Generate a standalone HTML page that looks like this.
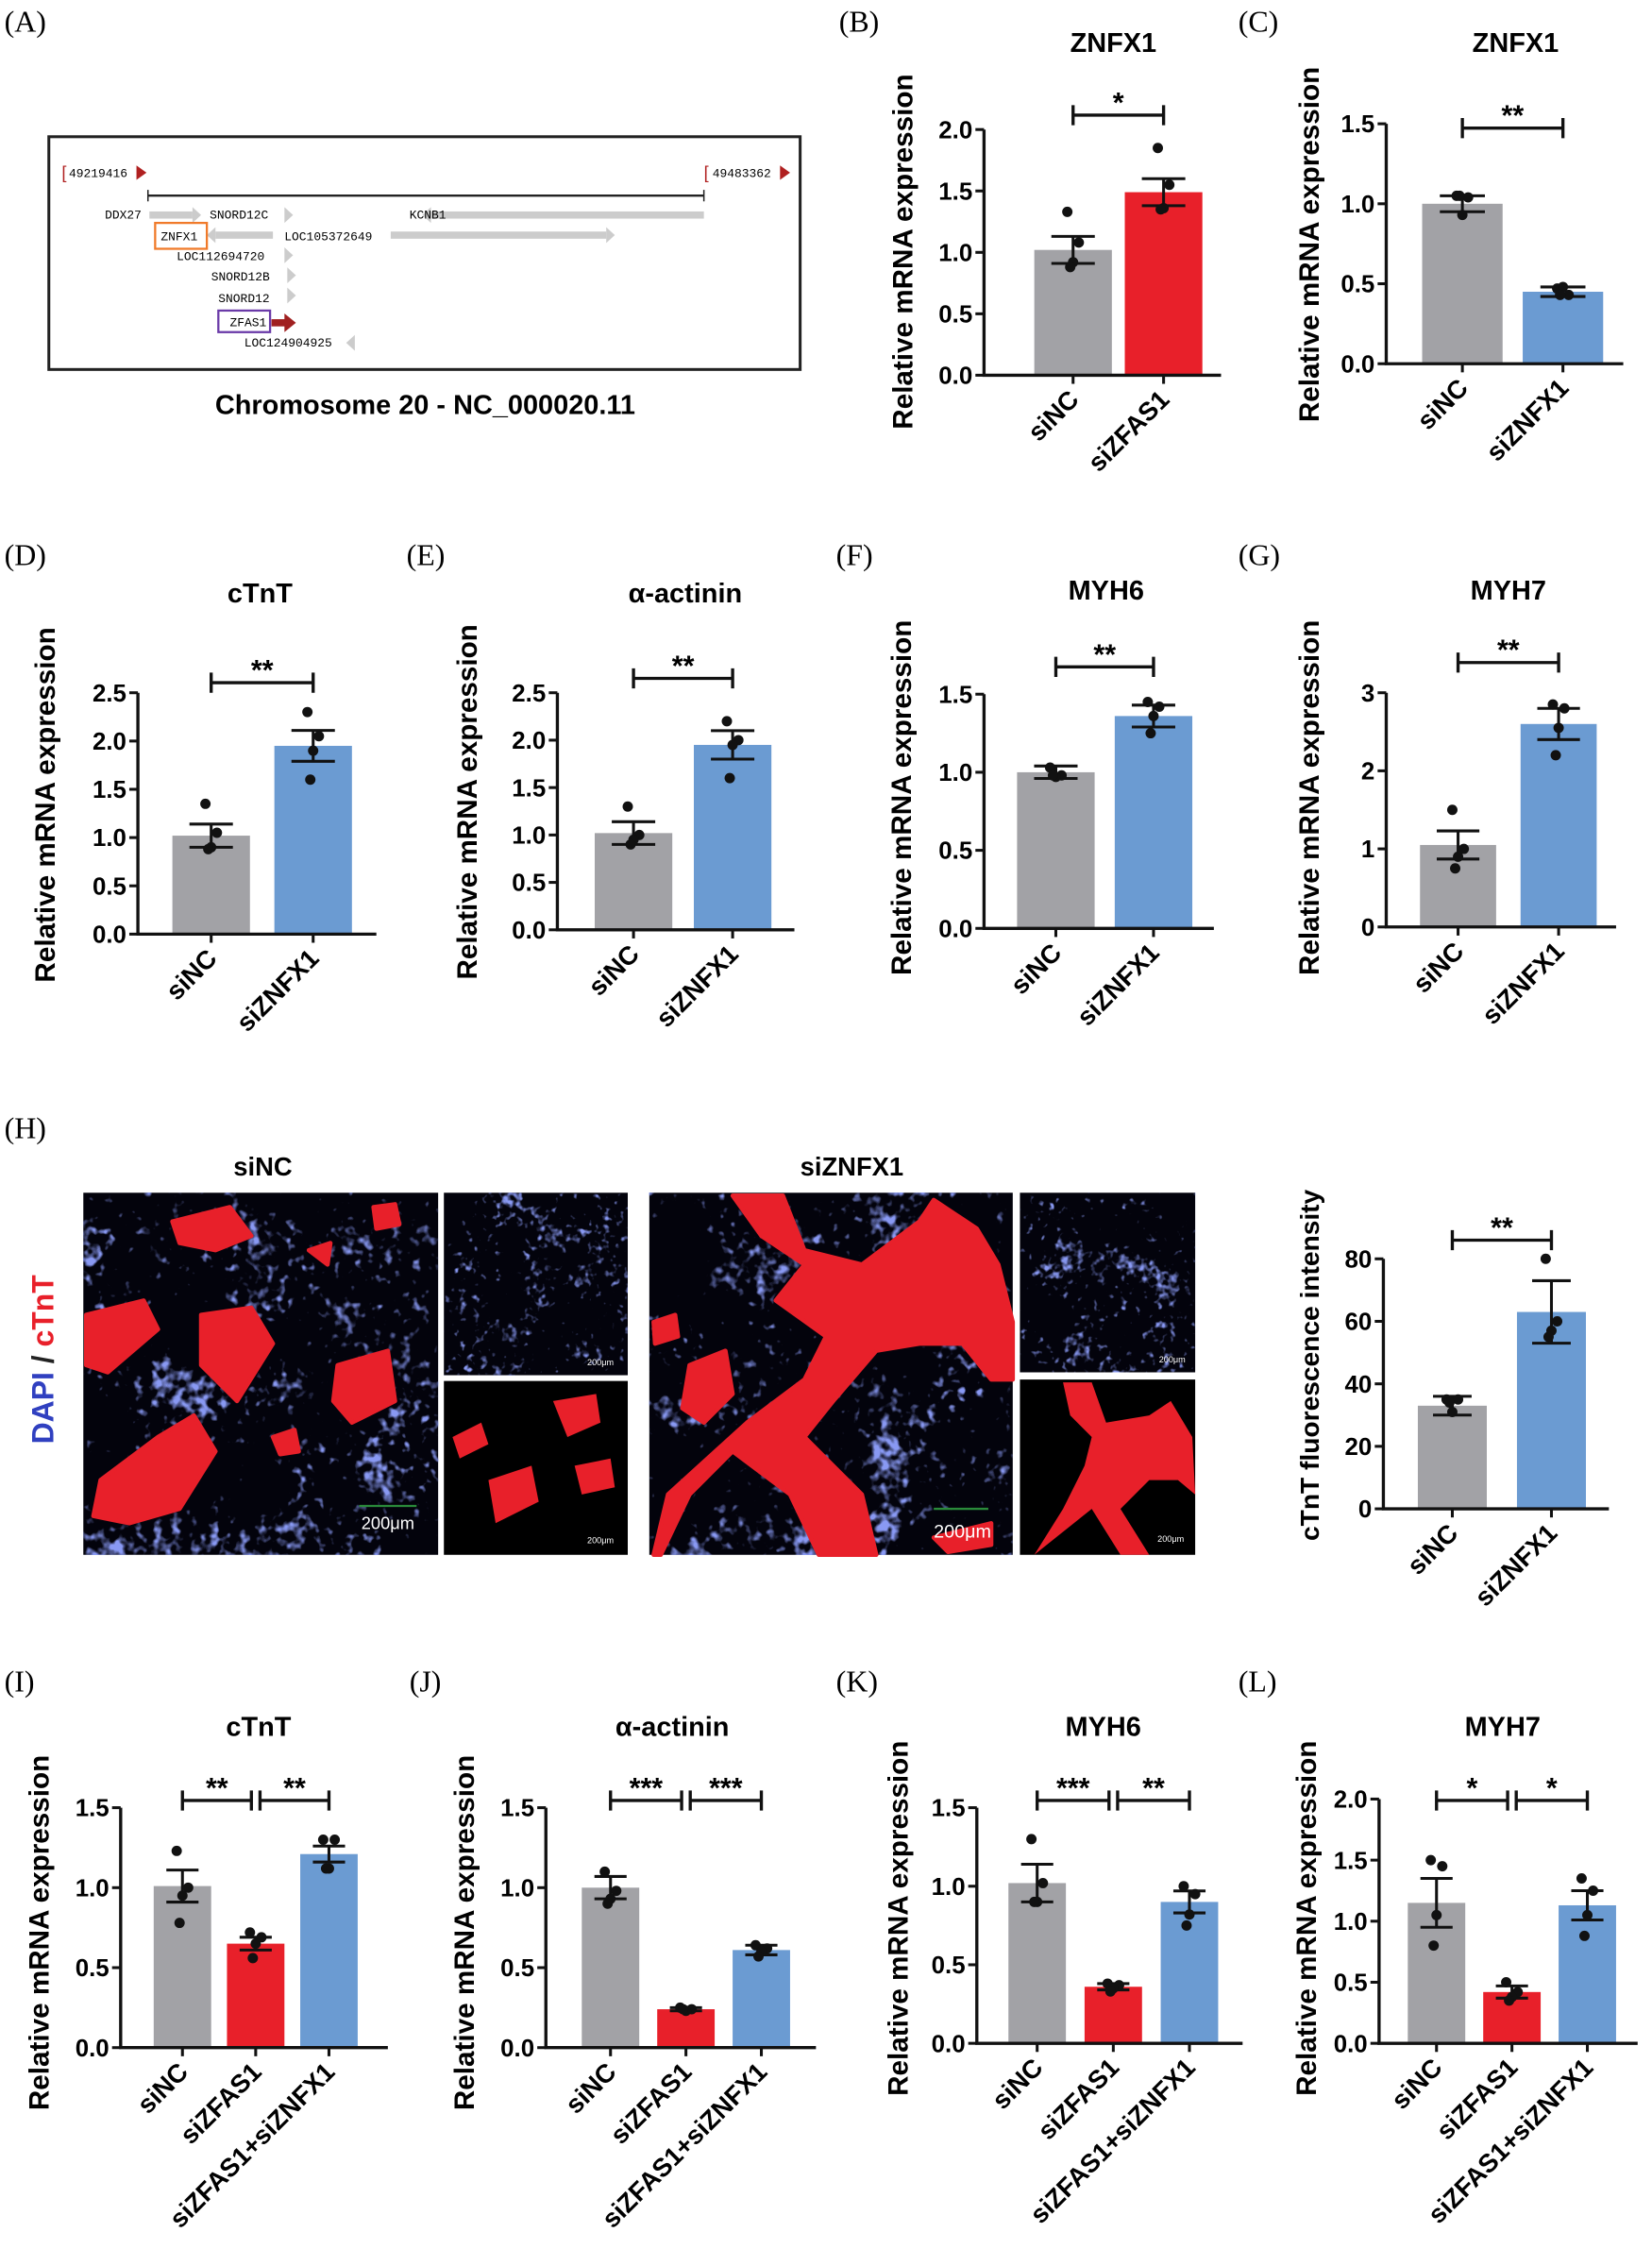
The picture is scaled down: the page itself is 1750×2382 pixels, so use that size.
<!DOCTYPE html>
<html><head><meta charset="utf-8"><style>
html,body{margin:0;padding:0;background:#fff}
svg{display:block}
text{font-family:"Liberation Sans",sans-serif}
.lbl{font-family:"Liberation Serif",serif;font-size:21px}
.mono{font-family:"Liberation Mono",monospace;font-size:8.5px}
</style></head><body>
<svg id="fig" width="1750" height="2382" viewBox="0 0 1150 1565" xmlns="http://www.w3.org/2000/svg">
<defs>
<filter id="blueNoise" x="0" y="0" width="100%" height="100%">
<feTurbulence type="fractalNoise" baseFrequency="0.15" numOctaves="2" seed="4" result="fine"/>
<feTurbulence type="fractalNoise" baseFrequency="0.02" numOctaves="2" seed="7" result="coarse"/>
<feComposite in="fine" in2="coarse" operator="arithmetic" k1="0" k2="0.6" k3="0.6" k4="-0.1" result="mix"/>
<feColorMatrix in="mix" values="0 0 0 0 0.25  0 0 0 0 0.32  0 0 0 0 0.9  6 0 0 0 -2.9"/>
</filter>
<filter id="blueNoise2" x="0" y="0" width="100%" height="100%">
<feTurbulence type="fractalNoise" baseFrequency="0.2" numOctaves="2" seed="9" result="fine"/>
<feTurbulence type="fractalNoise" baseFrequency="0.03" numOctaves="2" seed="3" result="coarse"/>
<feComposite in="fine" in2="coarse" operator="arithmetic" k1="0" k2="0.6" k3="0.6" k4="-0.1" result="mix"/>
<feColorMatrix in="mix" values="0 0 0 0 0.25  0 0 0 0 0.32  0 0 0 0 0.9  6 0 0 0 -2.9"/>
</filter>
</defs>
<g id="labels">
<text class="lbl" x="3" y="22">(A)</text><text class="lbl" x="584" y="22">(B)</text><text class="lbl" x="862" y="22">(C)</text>
<text class="lbl" x="3" y="393">(D)</text><text class="lbl" x="283" y="393">(E)</text><text class="lbl" x="582" y="393">(F)</text><text class="lbl" x="862" y="393">(G)</text>
<text class="lbl" x="3" y="792">(H)</text>
<text class="lbl" x="3" y="1177">(I)</text><text class="lbl" x="285" y="1177">(J)</text><text class="lbl" x="582" y="1177">(K)</text><text class="lbl" x="862" y="1177">(L)</text>
</g>
<g id="panelA">
<rect x="34" y="95" width="523" height="162" fill="#fff" stroke="#222" stroke-width="2"/>
<text x="43" y="124" fill="#b02020" font-size="12">[</text><text class="mono" x="48" y="123">49219416</text><polygon points="95,115 102,120 95,125" fill="#b02020"/>
<text x="490" y="124" fill="#b02020" font-size="12">[</text><text class="mono" x="496" y="123">49483362</text><polygon points="543,115 550,120 543,125" fill="#b02020"/>
<line x1="103" y1="136" x2="490" y2="136" stroke="#222" stroke-width="1.5"/>
<line x1="103" y1="132" x2="103" y2="140" stroke="#222"/><line x1="490" y1="132" x2="490" y2="140" stroke="#222"/>
<g fill="#ccc">
<rect x="104" y="147" width="30" height="5"/><polygon points="134,144 140,149.5 134,155"/>
<polygon points="198,144 204,149.5 198,155"/>
<rect x="300" y="147" width="190" height="5"/><polygon points="300,144 294,149.5 300,155"/>
<rect x="150" y="161" width="40" height="5"/><polygon points="150,158 144,163.5 150,169"/>
<rect x="272" y="161" width="150" height="5"/><polygon points="422,158 428,163.5 422,169"/>
<polygon points="198,172 204,177.5 198,183"/><polygon points="200,186 206,191.5 200,197"/><polygon points="200,200 206,205.5 200,211"/>
<polygon points="247,233 241,238.5 247,244"/>
</g>
<text class="mono" x="73" y="152">DDX27</text><text class="mono" x="146" y="152">SNORD12C</text><text class="mono" x="285" y="152">KCNB1</text>
<rect x="108" y="155" width="36" height="18" fill="none" stroke="#f07a2a" stroke-width="1.5"/><text class="mono" x="112" y="167">ZNFX1</text>
<text class="mono" x="198" y="167">LOC105372649</text><text class="mono" x="123" y="181">LOC112694720</text>
<text class="mono" x="147" y="195">SNORD12B</text><text class="mono" x="152" y="210">SNORD12</text>
<rect x="152" y="216" width="36" height="15" fill="none" stroke="#6a3aa8" stroke-width="1.5"/><text class="mono" x="160" y="227">ZFAS1</text>
<rect x="189" y="222" width="10" height="5" fill="#a02020"/><polygon points="198,218 206,224.5 198,231" fill="#a02020"/>
<text class="mono" x="170" y="241">LOC124904925</text>
<text x="296" y="288" text-anchor="middle" font-size="19" font-weight="bold">Chromosome 20 - NC_000020.11</text>
</g>
<g id="panelH">
<text x="183" y="818" text-anchor="middle" font-size="18" font-weight="bold">siNC</text>
<text x="593" y="818" text-anchor="middle" font-size="18" font-weight="bold">siZNFX1</text>
<text transform="translate(37,946) rotate(-90)" text-anchor="middle" font-size="21" font-weight="bold"><tspan fill="#3040c0">DAPI</tspan><tspan fill="#222"> / </tspan><tspan fill="#e8202a">cTnT</tspan></text>
<g>
<rect x="58" y="830" width="247" height="252" fill="#03030c"/>
<rect x="58" y="830" width="247" height="252" filter="url(#blueNoise)"/>
<g fill="#e8202a" stroke="#e8202a" stroke-width="3" stroke-linejoin="round"><polygon points="60,915 100,905 110,925 75,955 60,950"/><polygon points="120,850 160,840 175,860 150,870 125,865"/><polygon points="140,915 175,910 190,935 165,975 140,950"/><polygon points="235,950 270,940 275,975 245,990 232,975"/><polygon points="70,1030 110,1000 135,985 150,1010 125,1050 90,1060 65,1055"/><polygon points="260,840 275,838 278,852 262,855"/><polygon points="215,870 230,865 228,880"/><polygon points="190,1000 205,995 208,1010 195,1012"/></g>
<text x="270" y="1064" text-anchor="middle" fill="#fff" font-size="12">200μm</text><line x1="250" y1="1048" x2="290" y2="1048" stroke="#2a8a3a" stroke-width="1.5"/>
</g>
<g>
<rect x="309" y="830" width="128" height="127" fill="#03030c"/><rect x="309" y="830" width="128" height="127" filter="url(#blueNoise2)"/>
<text x="418" y="950" text-anchor="middle" fill="#fff" font-size="6">200μm</text>
</g>
<g>
<rect x="309" y="961" width="128" height="121" fill="#000"/>
<g fill="#e8202a"><polygon points="315,1000 335,990 340,1005 320,1015"/><polygon points="340,1030 370,1020 375,1045 345,1060"/><polygon points="385,975 415,970 418,990 395,1000"/><polygon points="400,1020 425,1015 428,1035 405,1040"/></g>
<text x="418" y="1074" text-anchor="middle" fill="#fff" font-size="6">200μm</text>
</g>
<g>
<rect x="452" y="830" width="253" height="252" fill="#03030c"/><rect x="452" y="830" width="253" height="252" filter="url(#blueNoise)"/>
<g fill="#e8202a" stroke="#e8202a" stroke-width="3" stroke-linejoin="round"><polygon points="510,832 545,832 560,870 600,880 640,850 650,835 680,855 695,880 705,920 705,960 690,960 670,935 640,935 610,940 580,975 560,1000 600,1040 610,1082 570,1082 550,1040 510,1010 480,1040 460,1082 455,1082 465,1040 520,990 560,960 575,930 540,905 560,880 530,860"/><polygon points="455,920 470,915 472,930 456,935"/><polygon points="480,950 505,940 510,970 490,990 475,980"/><polygon points="650,1070 690,1060 690,1075 660,1080"/></g>
<text x="670" y="1070" text-anchor="middle" fill="#fff" font-size="13">200μm</text><line x1="650" y1="1050" x2="688" y2="1050" stroke="#2a8a3a" stroke-width="1.5"/>
</g>
<g>
<rect x="710" y="830" width="122" height="125" fill="#03030c"/><rect x="710" y="830" width="122" height="125" filter="url(#blueNoise2)"/>
<text x="816" y="948" text-anchor="middle" fill="#fff" font-size="6">200μm</text>
</g>
<g>
<rect x="710" y="960" width="122" height="122" fill="#000"/>
<g fill="#e8202a"><polygon points="740,962 760,962 770,990 800,985 815,975 830,1000 832,1040 820,1030 800,1030 780,1050 800,1082 780,1082 760,1050 735,1070 720,1082 740,1050 755,1020 760,1000 745,985"/></g>
<text x="815" y="1073" text-anchor="middle" fill="#fff" font-size="6">200μm</text>
</g>
</g>
<g id="charts"></g>
</svg>
<script>
// ---- data arrays ----
const B_cats=["siNC","siZFAS1"]; const B_means=[1.02,1.49]; const B_errs=[0.11,0.11]; const B_pts=[[1.33,1.08,0.92,0.88],[1.85,1.55,1.36,1.35]]; const B_ticks=[0,0.5,1.0,1.5,2.0]; const B_sig=["*"];
const C_cats=["siNC","siZNFX1"]; const C_means=[1.0,0.45]; const C_errs=[0.05,0.03]; const C_pts=[[1.05,1.04,0.93,1.05],[0.47,0.43,0.48,0.43]]; const C_ticks=[0,0.5,1.0,1.5]; const C_sig=["**"];
const D_cats=["siNC","siZNFX1"]; const D_means=[1.02,1.95]; const D_errs=[0.12,0.16]; const D_pts=[[1.35,1.05,0.9,0.88],[2.3,2.05,1.9,1.6]]; const D_ticks=[0,0.5,1.0,1.5,2.0,2.5]; const D_sig=["**"];
const E_cats=["siNC","siZNFX1"]; const E_means=[1.02,1.95]; const E_errs=[0.12,0.15]; const E_pts=[[1.3,1.0,0.95,0.9],[2.2,2.0,1.95,1.6]]; const E_ticks=[0,0.5,1.0,1.5,2.0,2.5]; const E_sig=["**"];
const F_cats=["siNC","siZNFX1"]; const F_means=[1.0,1.36]; const F_errs=[0.04,0.07]; const F_pts=[[1.03,0.98,0.97,0.98],[1.45,1.42,1.36,1.25]]; const F_ticks=[0,0.5,1.0,1.5]; const F_sig=["**"];
const G_cats=["siNC","siZNFX1"]; const G_means=[1.05,2.6]; const G_errs=[0.18,0.2]; const G_pts=[[1.5,1.0,0.9,0.75],[2.85,2.8,2.55,2.2]]; const G_ticks=[0,1,2,3]; const G_sig=["**"];
const H_cats=["siNC","siZNFX1"]; const H_means=[33,63]; const H_errs=[3,10]; const H_pts=[[35,35,31,34],[80,60,57,55]]; const H_ticks=[0,20,40,60,80]; const H_sig=["**"];
const I_cats=["siNC","siZFAS1","siZFAS1+siZNFX1"]; const I_means=[1.01,0.65,1.21]; const I_errs=[0.1,0.04,0.05]; const I_pts=[[1.23,1.0,0.95,0.78],[0.72,0.69,0.65,0.56],[1.3,1.3,1.12,1.12]]; const I_ticks=[0,0.5,1.0,1.5]; const I_sig=["**","**"];
const J_cats=["siNC","siZFAS1","siZFAS1+siZNFX1"]; const J_means=[1.0,0.24,0.61]; const J_errs=[0.07,0.01,0.03]; const J_pts=[[1.1,0.98,0.93,0.9],[0.25,0.24,0.23,0.24],[0.64,0.62,0.6,0.57]]; const J_ticks=[0,0.5,1.0,1.5]; const J_sig=["***","***"];
const K_cats=["siNC","siZFAS1","siZFAS1+siZNFX1"]; const K_means=[1.02,0.36,0.9]; const K_errs=[0.12,0.02,0.07]; const K_pts=[[1.3,1.02,0.9,0.9],[0.38,0.37,0.35,0.33],[1.0,0.95,0.82,0.75]]; const K_ticks=[0,0.5,1.0,1.5]; const K_sig=["***","**"];
const L_cats=["siNC","siZFAS1","siZFAS1+siZNFX1"]; const L_means=[1.15,0.42,1.13]; const L_errs=[0.2,0.05,0.12]; const L_pts=[[1.5,1.45,1.05,0.8],[0.5,0.42,0.38,0.35],[1.35,1.25,1.05,0.88]]; const L_ticks=[0,0.5,1.0,1.5,2.0]; const L_sig=["*","*"];

const NS="http://www.w3.org/2000/svg";
const root=document.getElementById('charts');
function mk(tag,attrs,parent){const e=document.createElementNS(NS,tag);for(const k in attrs)e.setAttribute(k,attrs[k]);parent.appendChild(e);return e;}
const COLORS={gray:"#a2a2a6",red:"#e8202a",blue:"#6b9bd2"};
function chart(id,cfg,cats,means,errs,pts,ticks,sig){
  const g=mk('g',{},root);
  
  
  const ymax=ticks[ticks.length-1];
  const y=v=>cfg.y0-(v/ymax)*(cfg.y0-cfg.ytop);
  const x=i=>cfg.c0+i*cfg.step;
  const t=mk('text',{x:cfg.tx,y:cfg.ty,'text-anchor':'middle','font-size':19,'font-weight':'bold'},g);t.textContent=cfg.title;
  
  
  const yl=mk('text',{transform:`translate(${cfg.ylx},${cfg.yly}) rotate(-90)`,'text-anchor':'middle','font-size':cfg.ylsize||19.5,'font-weight':'bold'},g);yl.textContent=cfg.ylabel||"Relative mRNA expression";
  
  
  cats.forEach((c,i)=>{
    const col=cfg.colors[i];
    const r=mk('rect',{x:x(i)-cfg.bw/2,y:y(means[i]),width:cfg.bw,height:cfg.y0-y(means[i]),fill:COLORS[col]},g);
    
    
    const ex=cfg.bw*0.28;
    const eb=mk('path',{d:`M${x(i)},${y(means[i]-errs[i])}V${y(means[i]+errs[i])}M${x(i)-ex},${y(means[i]+errs[i])}H${x(i)+ex}M${x(i)-ex},${y(means[i]-errs[i])}H${x(i)+ex}`,stroke:'#111','stroke-width':2,fill:'none'},g);
    
    
    const off=[-4,4,0,-2];
    pts[i].forEach((v,j)=>{
      const p=mk('circle',{cx:x(i)+off[j],cy:y(v),r:3.6,fill:'#111'},g);
      
      
    });
    const cl=mk('text',{transform:`translate(${x(i)+5},${cfg.y0+18}) rotate(-45)`,'text-anchor':'end','font-size':18,'font-weight':'bold'},g);cl.textContent=c;
    
    
    mk('line',{x1:x(i),x2:x(i),y1:cfg.y0,y2:cfg.y0+6,stroke:'#111','stroke-width':2},g);
  });
  const ax=mk('path',{d:`M${cfg.ax},${cfg.ytop}V${cfg.y0}H${cfg.xend}`,stroke:'#111','stroke-width':2.2,fill:'none'},g);
  
  
  ticks.forEach(tv=>{
    mk('line',{x1:cfg.ax-6,x2:cfg.ax,y1:y(tv),y2:y(tv),stroke:'#111','stroke-width':2},g);
    const tl=mk('text',{x:cfg.ax-8,y:y(tv)+6,'text-anchor':'end','font-size':17,'font-weight':'bold'},g);
    tl.textContent=cfg.fmt?tv.toFixed(1):String(tv);
    
    
  });
  sig.forEach((s,k)=>{
    const a=x(k)+(k>0?3:0), b=x(k+1)-(k===0&&sig.length>1?3:0);
    const by=cfg.by;
    const br=mk('path',{d:`M${a},${by-7}V${by+7}M${a},${by}H${b}M${b},${by-7}V${by+7}`,stroke:'#111','stroke-width':2.2,fill:'none'},g);
    
    
    const st=mk('text',{x:(a+b)/2,y:by-2,'text-anchor':'middle','font-size':20,'font-weight':'bold'},g);st.textContent=s;
    
    
  });
}
const two=["gray","red"], twob=["gray","blue"], three=["gray","red","blue"];
chart('B',{title:"ZNFX1",tx:775,ty:36,ylx:635,yly:175,ax:685,y0:261,ytop:90,c0:747,step:63,bw:54,xend:850,by:80,colors:two,fmt:1},B_cats,B_means,B_errs,B_pts,B_ticks,B_sig);
chart('C',{title:"ZNFX1",tx:1055,ty:36,ylx:918,yly:170,ax:965,y0:253,ytop:86,c0:1018,step:70,bw:56,xend:1130,by:89,colors:twob,fmt:1},C_cats,C_means,C_errs,C_pts,C_ticks,C_sig);
chart('D',{title:"cTnT",tx:181,ty:419,ylx:38,yly:560,ax:96,y0:650,ytop:482,c0:147,step:71,bw:54,xend:262,by:475,colors:twob,fmt:1},D_cats,D_means,D_errs,D_pts,D_ticks,D_sig);
chart('E',{title:"α-actinin",tx:477,ty:419,ylx:332,yly:558,ax:388,y0:647,ytop:482,c0:441,step:69,bw:54,xend:553,by:472,colors:twob,fmt:1},E_cats,E_means,E_errs,E_pts,E_ticks,E_sig);
chart('F',{title:"MYH6",tx:770,ty:417,ylx:634,yly:555,ax:685,y0:646,ytop:483,c0:735,step:68,bw:54,xend:845,by:464,colors:twob,fmt:1},F_cats,F_means,F_errs,F_pts,F_ticks,F_sig);
chart('G',{title:"MYH7",tx:1050,ty:417,ylx:918,yly:555,ax:965,y0:645,ytop:482,c0:1015,step:70,bw:53,xend:1125,by:461,colors:twob,fmt:0},G_cats,G_means,G_errs,G_pts,G_ticks,G_sig);
chart('H',{title:"",tx:0,ty:0,ylabel:"cTnT fluorescence intensity",ylsize:18.5,ylx:918,yly:950,ax:963,y0:1050,ytop:876,c0:1011,step:69,bw:48,xend:1120,by:863,colors:twob,fmt:0},H_cats,H_means,H_errs,H_pts,H_ticks,H_sig);
chart('I',{title:"cTnT",tx:180,ty:1208,ylx:34,yly:1345,ax:84,y0:1425,ytop:1258,c0:127,step:51,bw:40,xend:270,by:1253,colors:three,fmt:1},I_cats,I_means,I_errs,I_pts,I_ticks,I_sig);
chart('J',{title:"α-actinin",tx:468,ty:1208,ylx:330,yly:1345,ax:380,y0:1425,ytop:1258,c0:425,step:52.5,bw:40,xend:568,by:1253,colors:three,fmt:1},J_cats,J_means,J_errs,J_pts,J_ticks,J_sig);
chart('K',{title:"MYH6",tx:768,ty:1208,ylx:632,yly:1335,ax:680,y0:1422,ytop:1258,c0:722,step:53,bw:40,xend:865,by:1253,colors:three,fmt:1},K_cats,K_means,K_errs,K_pts,K_ticks,K_sig);
chart('L',{title:"MYH7",tx:1046,ty:1208,ylx:916,yly:1335,ax:960,y0:1422,ytop:1252,c0:1000,step:52.5,bw:40,xend:1140,by:1253,colors:three,fmt:1},L_cats,L_means,L_errs,L_pts,L_ticks,L_sig);
</script>
</body></html>
